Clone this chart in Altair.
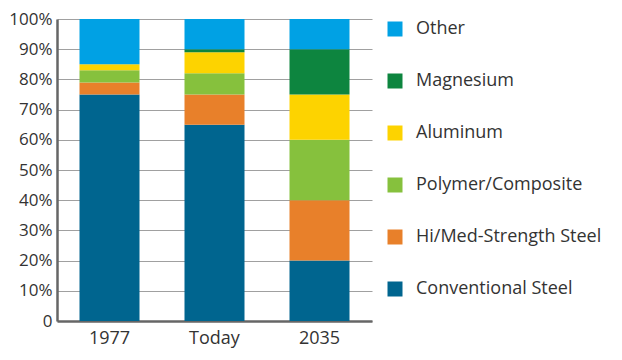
import altair as alt
import pandas as pd

categories = ["1977", "Today", "2035"]
materials = ["Conventional Steel", "Hi/Med-Strength Steel", "Polymer/Composite",
             "Aluminum", "Magnesium", "Other"]
colors = ["#00658F", "#E8802A", "#86C13D", "#FDD300", "#0D853F", "#00A1E4"]
values = {
    "1977":  [75, 4, 4, 2, 0, 15],
    "Today": [65, 10, 7, 7, 1, 10],
    "2035":  [20, 20, 20, 15, 15, 10],
}
y_ticks = [0, 10, 20, 30, 40, 50, 60, 70, 80, 90, 100]

rows = []
for c in categories:
    for i, m in enumerate(materials):
        rows.append({"cat": c, "material": m, "value": values[c][i], "rank": i})
df = pd.DataFrame(rows)

legend_order = materials[::-1]
legend_colors = colors[::-1]

FONT = "Open Sans"

chart = alt.Chart(df).mark_bar(size=60).encode(
    x=alt.X("cat:N", sort=categories, title=None,
            axis=alt.Axis(labelAngle=0, ticks=False, labelFontSize=18, labelPadding=8,
                          domainColor="#666", domainWidth=2.5, labelColor="#333")),
    y=alt.Y("value:Q", stack="zero", title=None,
            scale=alt.Scale(domain=[0, 100], nice=False),
            axis=alt.Axis(values=y_ticks, ticks=False, labelFontSize=17, labelPadding=5,
                          labelExpr="datum.value == 0 ? '0' : datum.value + '%'",
                          grid=True, gridColor="#a0a0a0", gridWidth=1.2,
                          domainColor="#666", domainWidth=2.5, labelColor="#333")),
    color=alt.Color("material:N",
                    scale=alt.Scale(domain=legend_order, range=legend_colors),
                    legend=alt.Legend(title=None, orient="none", legendX=329, legendY=1,
                                      symbolType="square", symbolSize=225,
                                      symbolStrokeWidth=0, labelFontSize=18,
                                      labelColor="#333", rowPadding=34,
                                      labelOffset=12, labelLimit=300)),
    order=alt.Order("rank:Q", sort="ascending"),
).properties(
    width=315, height=302,
    autosize=alt.AutoSizeParams(type="none"),
    padding={"left": 49, "top": 11, "right": 242, "bottom": 31},
).configure(font=FONT).configure_view(stroke=None)

chart.save("out.html", embed_options={"renderer": "svg", "actions": False})
